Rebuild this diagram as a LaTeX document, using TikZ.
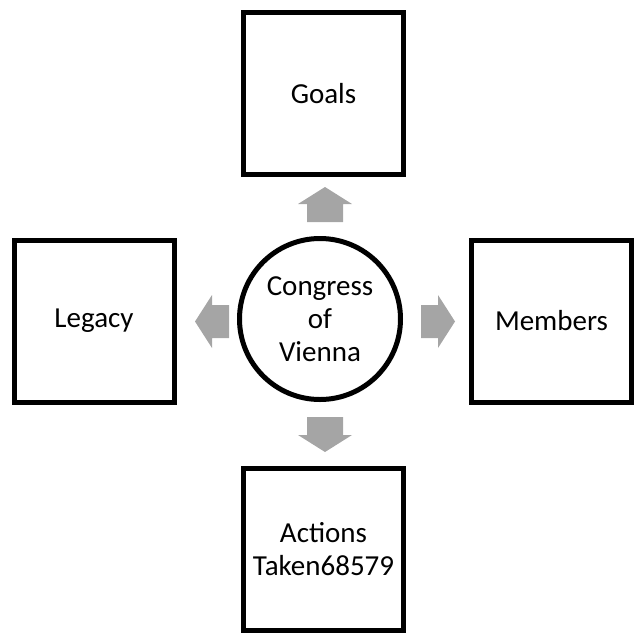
\documentclass[tikz,border=0pt]{standalone}
\usepackage{fontspec}
\setmainfont{Carlito}
\definecolor{arrowgray}{HTML}{A5A5A5}
\begin{document}
\begin{tikzpicture}[x=1pt,y=-1pt,
  box/.style={draw=black, line width=5pt, fill=white, minimum width=160pt, minimum height=162pt, inner sep=0pt, align=center, font=\fontsize{29}{33}\selectfont},
  hub/.style={draw=black, line width=5pt, fill=white, circle, minimum size=161pt, inner sep=0pt, align=center, font=\fontsize{29}{33}\selectfont},
  blockarrow/.style={fill=arrowgray, draw=none}]
\useasboundingbox (0,0) rectangle (637,635);
\node[box] (goals) at (323.5,93.5) {Goals};
\node[box] (legacy) at (94,321) {Legacy};
\node[box] (members) at (551.5,321) {Members};
\node[box] (actions) at (323.5,549.5) {Actions\\Taken68579};
\node[hub] (hub) at (320,319) {Congress\\of\\Vienna};
% left arrow
\fill[blockarrow] (229,305) -- (212,305) -- (212,295) -- (195,321.5) -- (212,348) -- (212,338) -- (229,338) -- cycle;
% right arrow
\fill[blockarrow] (421,305) -- (438,305) -- (438,295) -- (455,321.5) -- (438,348) -- (438,338) -- (421,338) -- cycle;
% down arrow
\fill[blockarrow] (307,417) -- (307,435) -- (298,435) -- (325,452) -- (352,435) -- (343,435) -- (343,417) -- cycle;
% up arrow
\fill[blockarrow] (307,222) -- (307,204) -- (298,204) -- (325,187) -- (352,204) -- (343,204) -- (343,222) -- cycle;
\end{tikzpicture}
\end{document}
